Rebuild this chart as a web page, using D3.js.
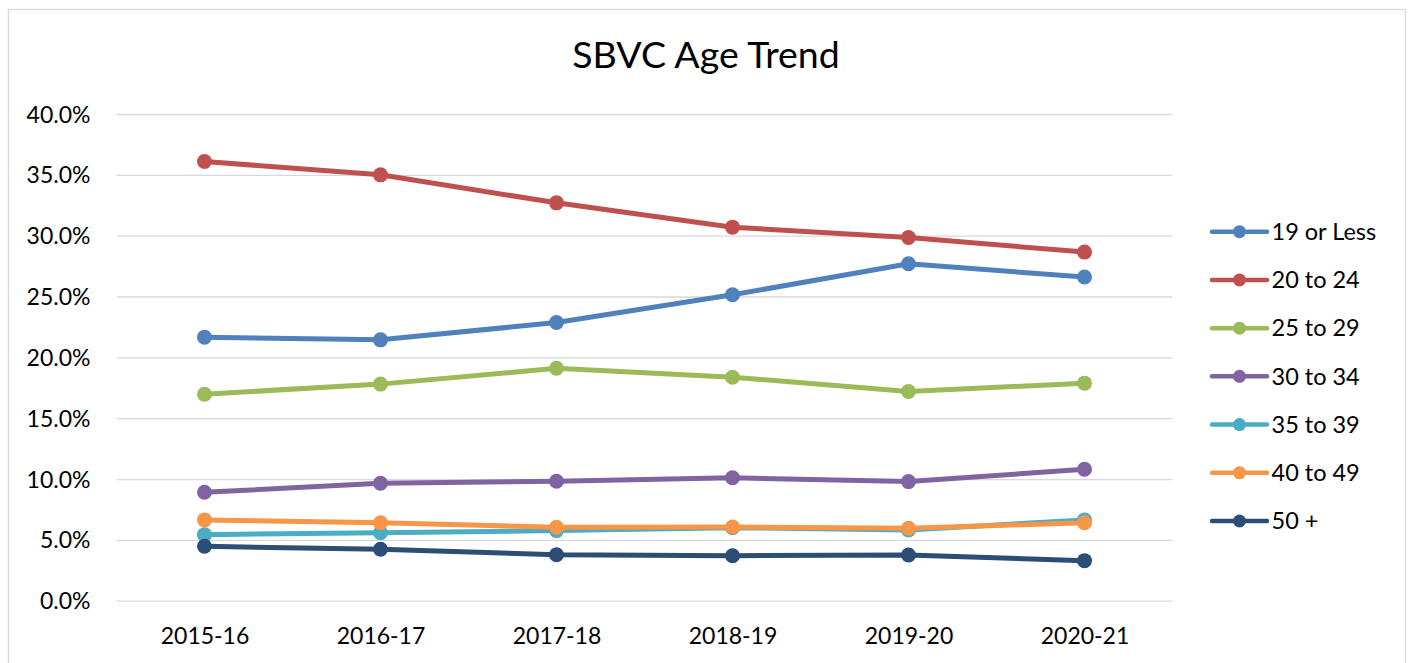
<!DOCTYPE html>
<html>
<head>
<meta charset="utf-8">
<script src="https://cdn.jsdelivr.net/npm/d3@7"></script>
<style>
  html, body { margin: 0; padding: 0; background: #fff; }
  svg { display: block; font-family: Lato, "Open Sans", sans-serif; }
</style>
</head>
<body>
<svg id="chart" width="1410" height="663"></svg>
<script>
const title = "SBVC Age Trend";
const categories = ["2015-16", "2016-17", "2017-18", "2018-19", "2019-20", "2020-21"];
const seriesNames = ["19 or Less", "20 to 24", "25 to 29", "30 to 34", "35 to 39", "40 to 49", "50 +"];
const seriesColors = ["#4F81BD", "#C0504D", "#9BBB59", "#8064A2", "#4BACC6", "#F79646", "#2C4D75"];
const age19OrLess = [0.2166, 0.2144, 0.2286, 0.2514, 0.2769, 0.2660];
const age20to24   = [0.3610, 0.3500, 0.3270, 0.3070, 0.2985, 0.2865];
const age25to29   = [0.1697, 0.1780, 0.1910, 0.1837, 0.1719, 0.1788];
const age30to34   = [0.0891, 0.0965, 0.0982, 0.1010, 0.0979, 0.1080];
const age35to39   = [0.0543, 0.0559, 0.0576, 0.0600, 0.0581, 0.0664];
const age40to49   = [0.0664, 0.0641, 0.0604, 0.0606, 0.0595, 0.0641];
const age50plus   = [0.0447, 0.0423, 0.0378, 0.0370, 0.0376, 0.0329];
const yTicks = [0, 0.05, 0.10, 0.15, 0.20, 0.25, 0.30, 0.35, 0.40];

const seriesValues = [age19OrLess, age20to24, age25to29, age30to34, age35to39, age40to49, age50plus];
const series = seriesNames.map((name, i) => ({ name, color: seriesColors[i], values: seriesValues[i] }));

const svg = d3.select("#chart");

// outer chart border
svg.append("rect")
  .attr("x", 8.5).attr("y", 9.5)
  .attr("width", 1397).attr("height", 670)
  .attr("fill", "#fff").attr("stroke", "#D9D9D9").attr("stroke-width", 1.3);

const plotLeft = 116.5, plotRight = 1172.5, plotTop = 114, plotBottom = 600.7;

const x = d3.scalePoint().domain(categories).range([plotLeft, plotRight]).padding(0.5);
const y = d3.scaleLinear().domain([0, 0.40]).range([plotBottom, plotTop]);

// title
svg.append("text")
  .attr("x", 706).attr("y", 68)
  .attr("text-anchor", "middle")
  .attr("font-size", 37.5).attr("fill", "#000")
  .text(title);

// gridlines
const yAxis = d3.axisLeft(y).tickValues(yTicks).tickFormat(d3.format(".1%"))
  .tickSize(-(plotRight - plotLeft)).tickPadding(26);
const gy = svg.append("g").attr("transform", `translate(${plotLeft},0)`).call(yAxis);
gy.select(".domain").remove();
gy.selectAll(".tick line").attr("stroke", "#D9D9D9").attr("stroke-width", 1.3);
gy.selectAll(".tick text").attr("font-size", 23).attr("fill", "#000")
  .attr("font-family", "Lato, sans-serif").attr("dy", "0.35em");

// x axis labels
const xAxis = d3.axisBottom(x).tickSize(0).tickPadding(27);
const gx = svg.append("g").attr("transform", `translate(0,${plotBottom})`).call(xAxis);
gx.select(".domain").remove();
gx.selectAll(".tick text").attr("font-size", 23).attr("fill", "#000")
  .attr("font-family", "Lato, sans-serif");

// lines
const line = d3.line().x((d, i) => x(categories[i])).y(d => y(d));
const gSeries = svg.append("g");
series.forEach(s => {
  const g = gSeries.append("g");
  g.append("path").attr("d", line(s.values))
    .attr("fill", "none").attr("stroke", s.color)
    .attr("stroke-width", 5).attr("stroke-linejoin", "round").attr("stroke-linecap", "round");
  g.selectAll("circle").data(s.values).join("circle")
    .attr("cx", (d, i) => x(categories[i])).attr("cy", d => y(d))
    .attr("r", 7.5).attr("fill", s.color);
});

// legend
const legend = svg.append("g");
const legY = d3.scalePoint().domain(seriesNames).range([231.7, 521]);
seriesNames.forEach((name, i) => {
  const yy = legY(name);
  legend.append("line").attr("x1", 1212).attr("x2", 1267).attr("y1", yy).attr("y2", yy)
    .attr("stroke", seriesColors[i]).attr("stroke-width", 4.5).attr("stroke-linecap", "round");
  legend.append("circle").attr("cx", 1239.5).attr("cy", yy).attr("r", 6.5).attr("fill", seriesColors[i]);
  legend.append("text").attr("x", 1271.5).attr("y", yy).attr("dy", "0.35em")
    .attr("font-size", 23.5).attr("fill", "#000").text(name);
});
</script>
</body>
</html>
